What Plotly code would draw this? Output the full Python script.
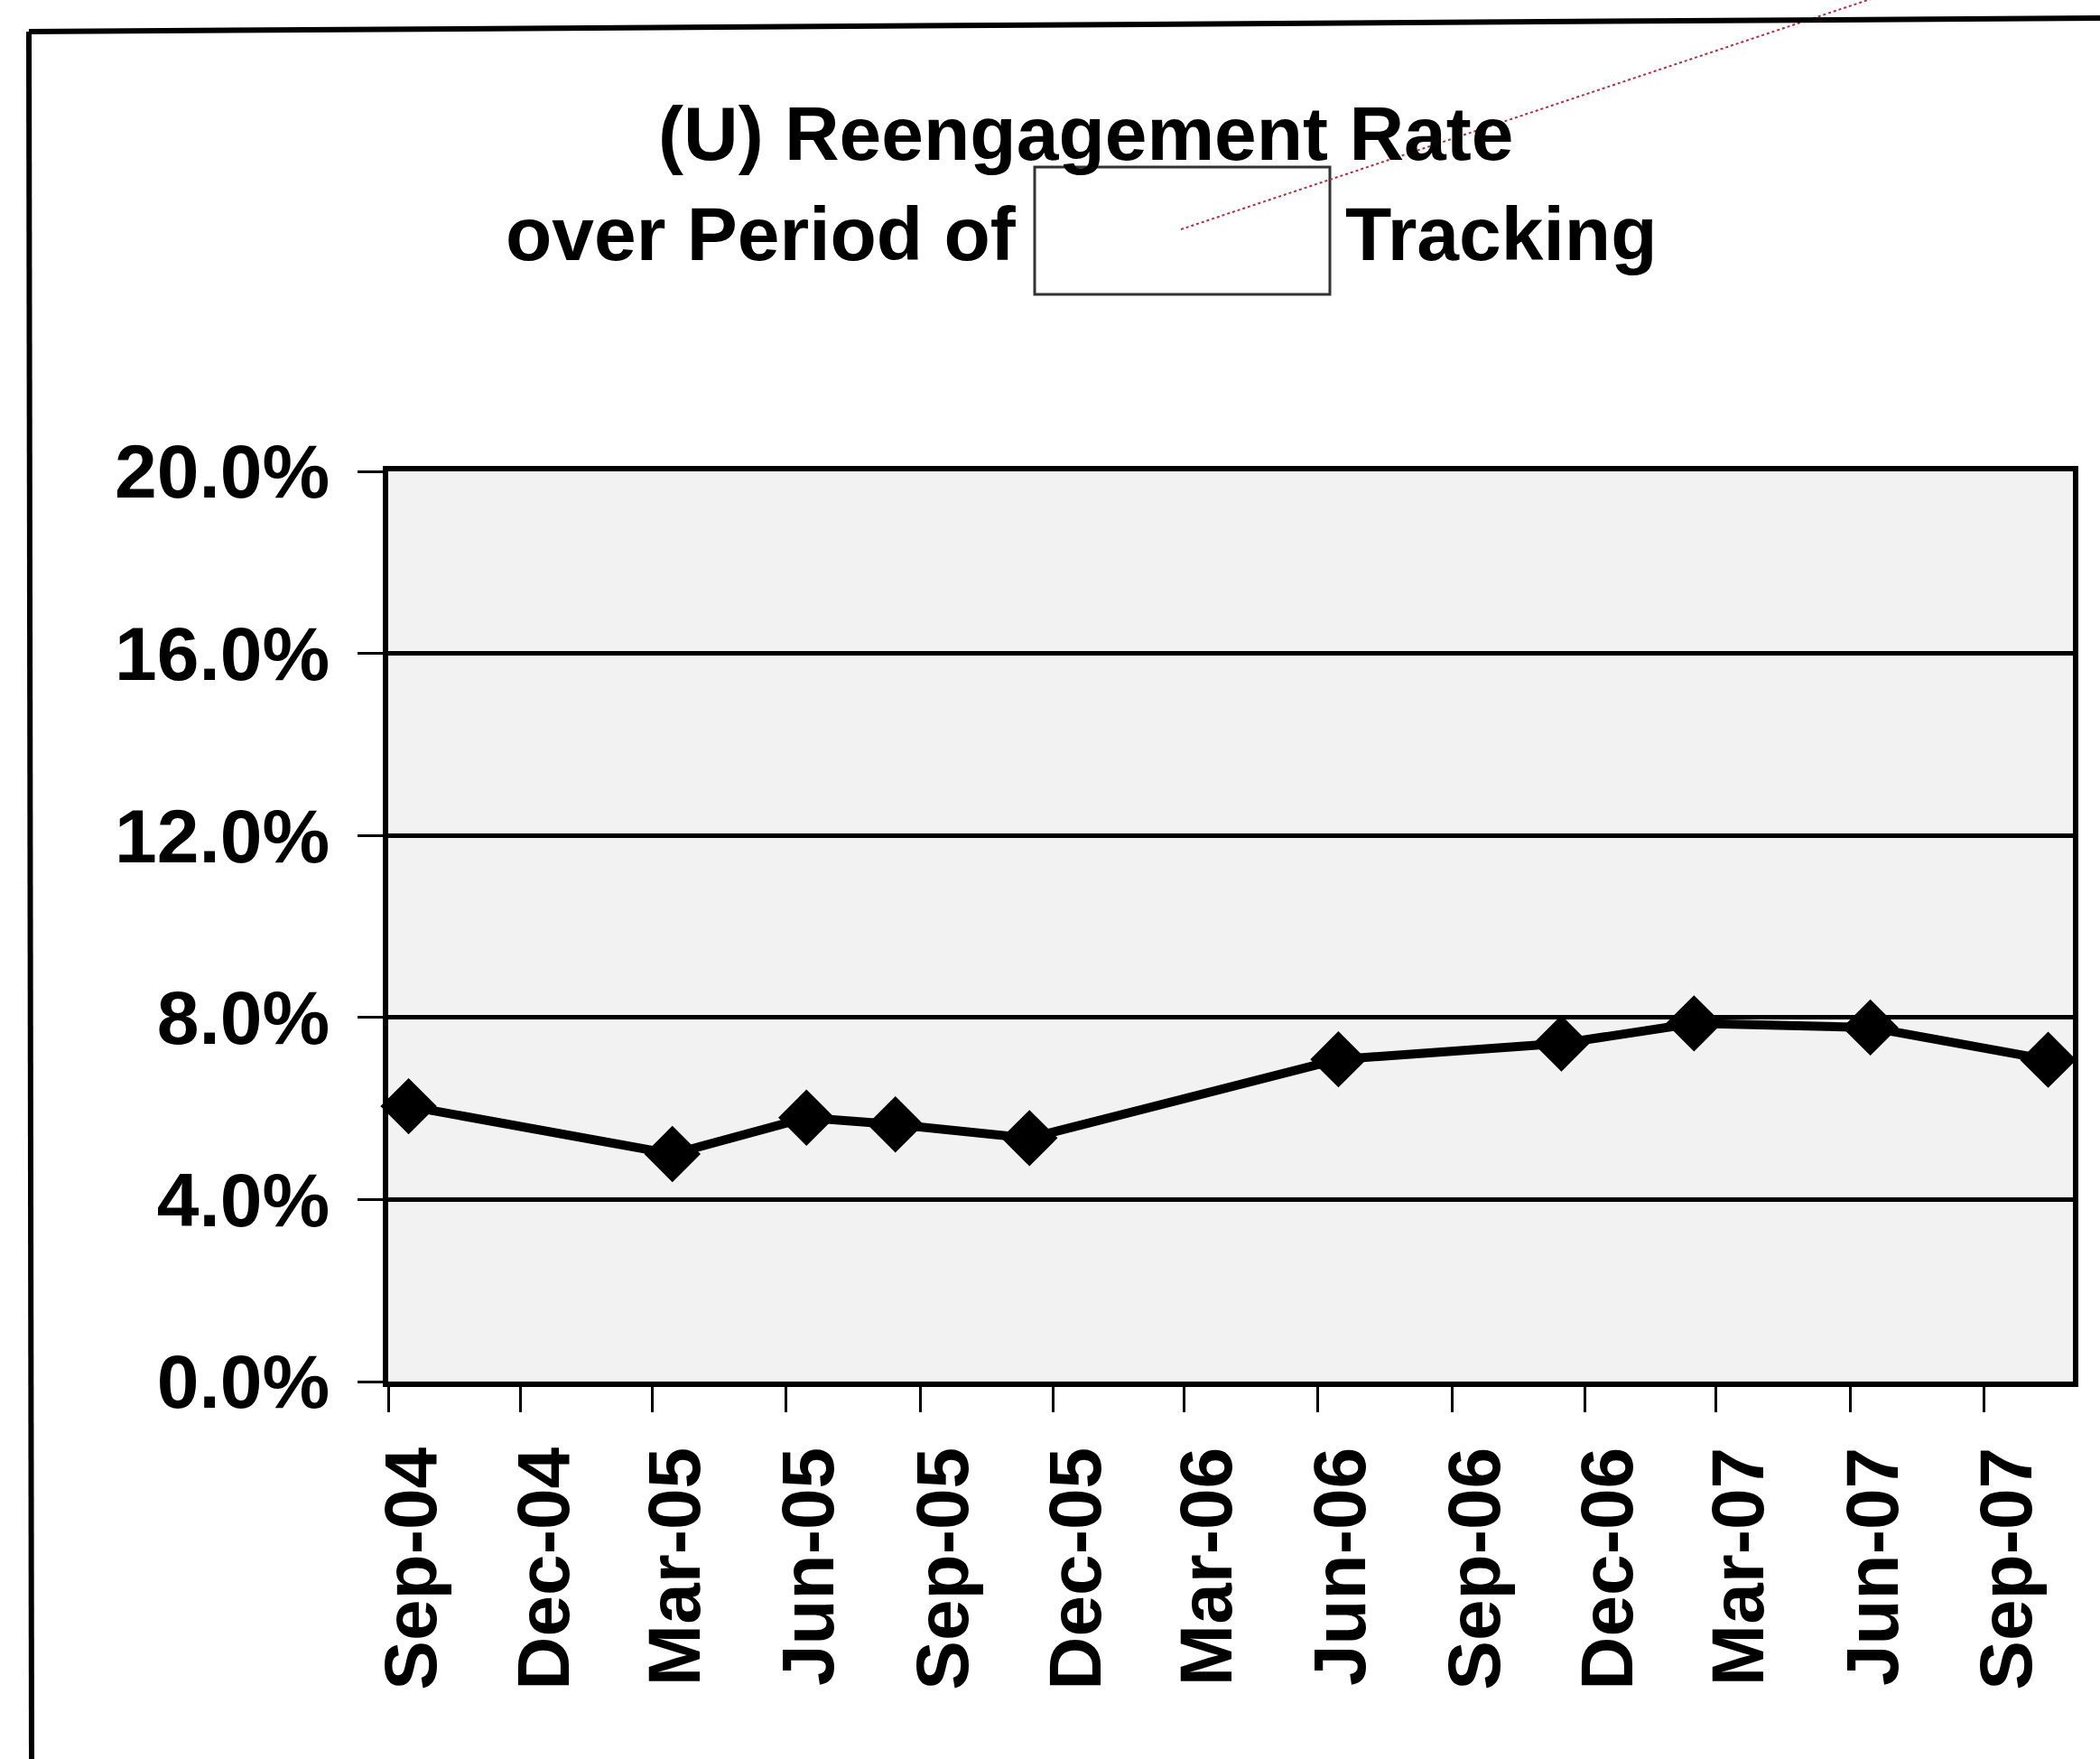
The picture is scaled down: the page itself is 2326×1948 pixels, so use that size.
import plotly.graph_objects as go

# ---- data ----
obs_dates = ["2004-09-15", "2005-03-15", "2005-06-15", "2005-08-15", "2005-11-15",
             "2006-06-15", "2006-11-15", "2007-02-14", "2007-06-15", "2007-10-15"]
reengagement_pct = [6.05, 5.0, 5.8, 5.65, 5.35, 7.08, 7.43, 7.87, 7.78, 7.07]

tick_dates = ["2004-09-01", "2004-12-01", "2005-03-01", "2005-06-01", "2005-09-01",
              "2005-12-01", "2006-03-01", "2006-06-01", "2006-09-01", "2006-12-01",
              "2007-03-01", "2007-06-01", "2007-09-01"]
tick_labels = ["Sep-04", "Dec-04", "Mar-05", "Jun-05", "Sep-05", "Dec-05", "Mar-06",
               "Jun-06", "Sep-06", "Dec-06", "Mar-07", "Jun-07", "Sep-07"]

y_ticks = [0.0, 0.04, 0.08, 0.12, 0.16, 0.20]

title_line1 = "(U) Reengagement Rate"
title_line2a = "over Period of"
title_line2b = "Tracking"

# ---- layout geometry ----
FW, FH = 2326, 1948
L, R, T, B = 430, 2296, 522, 1530
PW, PH = R - L, B - T


def px(x):
    return (x - L) / PW


def py(y):
    return (B - y) / PH


FONT = "Liberation Sans, Arial, sans-serif"

fig = go.Figure()
fig.add_trace(go.Scatter(
    x=obs_dates,
    y=[v / 100 for v in reengagement_pct],
    mode="lines+markers",
    line=dict(color="black", width=10),
    marker=dict(symbol="diamond", size=48, color="black"),
    showlegend=False,
    cliponaxis=False,
))

fig.update_layout(
    width=FW, height=FH,
    margin=dict(l=L, r=FW - R, t=T, b=FH - B, pad=0),
    paper_bgcolor="white",
    plot_bgcolor="#f2f2f2",
    font=dict(family=FONT, color="black"),
    showlegend=False,
)

fig.update_xaxes(
    type="date",
    range=["2004-09-01", "2007-11-01"],
    tickvals=tick_dates, ticktext=tick_labels,
    tickangle=-90,
    tickfont=dict(size=82, family=FONT, weight="bold", color="black"),
    ticks="outside", ticklen=28, tickwidth=3, tickcolor="black",
    showline=True, linecolor="black", linewidth=6, mirror=True,
    showgrid=False, zeroline=False,
    ticklabelstandoff=6,
    ticklabelshift=26,
)
fig.update_yaxes(
    range=[0, 0.20],
    tickvals=y_ticks, tickformat=".1%",
    tickfont=dict(size=84, family=FONT, weight="bold", color="black"),
    ticks="outside", ticklen=28, tickwidth=3, tickcolor="black",
    showline=True, linecolor="black", linewidth=6, mirror=True,
    showgrid=True, gridcolor="black", gridwidth=5,
    zeroline=False,
    ticklabelstandoff=14,
)

# title as annotations (line 2 has a blank box in the middle)
fig.add_annotation(text=title_line1, xref="paper", yref="paper",
                   x=px(1203), y=py(148), xanchor="center", yanchor="middle",
                   showarrow=False,
                   font=dict(size=84, family=FONT, weight="bold", color="black"))
fig.add_annotation(text=title_line2a, xref="paper", yref="paper",
                   x=px(1128), y=py(259), xanchor="right", yanchor="middle",
                   showarrow=False,
                   font=dict(size=84, family=FONT, weight="bold", color="black"))
fig.add_annotation(text=title_line2b, xref="paper", yref="paper",
                   x=px(1488), y=py(259), xanchor="left", yanchor="middle",
                   showarrow=False,
                   font=dict(size=84, family=FONT, weight="bold", color="black"))

# blank box in the title
fig.add_shape(type="rect", xref="paper", yref="paper",
              x0=px(1146), x1=px(1473), y0=py(326), y1=py(185),
              line=dict(color="#333333", width=3), fillcolor="white")
# red dotted annotation line
fig.add_shape(type="line", xref="paper", yref="paper",
              x0=px(1308), y0=py(254), x1=px(2075), y1=py(-2),
              line=dict(color="#b03040", width=2, dash="dot"))
# outer page border (scanned frame)
fig.add_shape(type="line", xref="paper", yref="paper",
              x0=px(32), y0=py(35), x1=px(2330), y1=py(20),
              line=dict(color="black", width=6))
fig.add_shape(type="line", xref="paper", yref="paper",
              x0=px(32), y0=py(35), x1=px(35), y1=py(1952),
              line=dict(color="black", width=6))

fig.write_html("out.html",
               config={"displayModeBar": False},
               post_script="document.body.style.margin='0';document.body.style.overflow='hidden';")
